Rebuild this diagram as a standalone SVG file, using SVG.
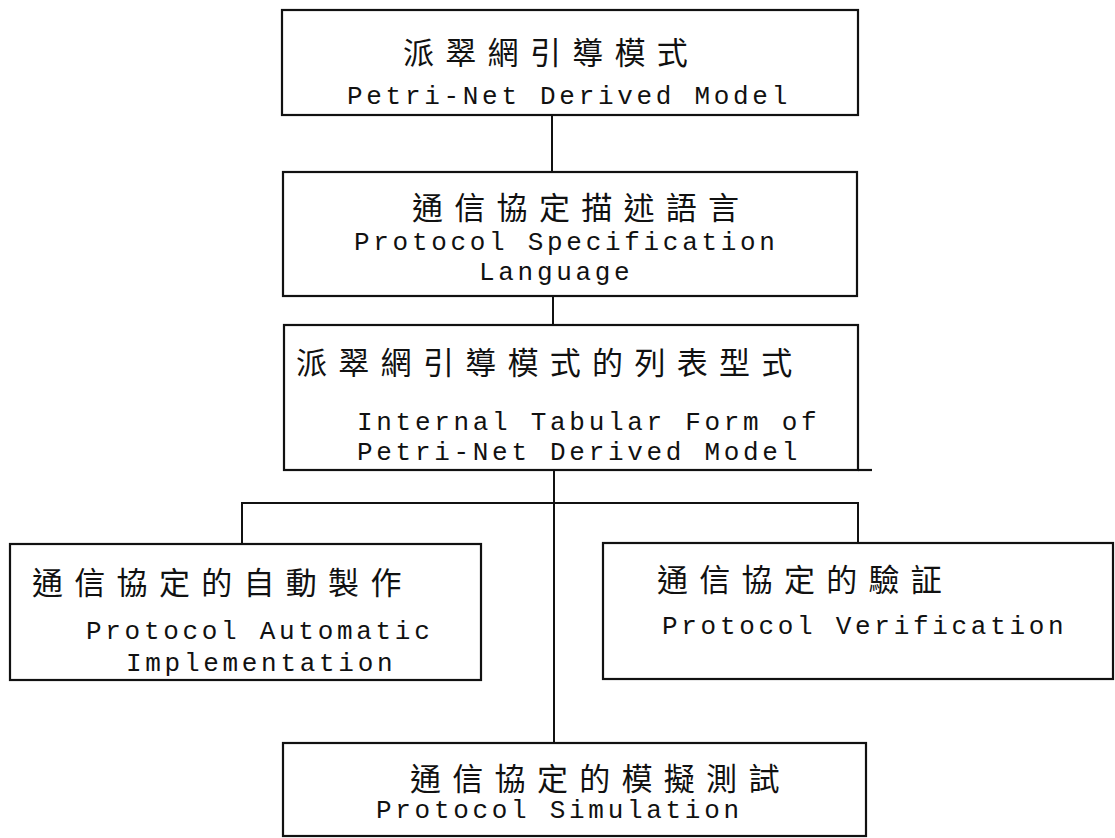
<svg xmlns="http://www.w3.org/2000/svg" width="1115" height="838" viewBox="0 0 1115 838">
<style>
.box{fill:none;stroke:#111;stroke-width:2.2}
.wire{fill:none;stroke:#111;stroke-width:2}
.zh{font-family:"Noto Sans CJK TC","Noto Sans CJK SC",sans-serif;font-size:31px;letter-spacing:11.3px;fill:#111}
.en{font-family:"Liberation Mono",monospace;font-size:26px;letter-spacing:3.7px;fill:#111}
</style>
<rect width="1115" height="838" fill="#fff"/>
<g id="connectors">
<line class="wire" x1="552" y1="115" x2="552" y2="172"/>
<line class="wire" x1="553" y1="296" x2="553" y2="325"/>
<line class="wire" x1="554" y1="470" x2="554" y2="743"/>
<polyline class="wire" points="242,544 242,503 858,503 858,543"/>
</g>
<g id="node-petri">
<rect class="box" x="282" y="10" width="576" height="105"/>
<text class="zh" x="403" y="64">派翠網引導模式</text>
<text class="en" x="347" y="104">Petri-Net Derived Model</text>
</g>
<g id="node-psl">
<rect class="box" x="283" y="172" width="574" height="124"/>
<text class="zh" x="412" y="219">通信協定描述語言</text>
<text class="en" x="354" y="250">Protocol Specification</text>
<text class="en" x="479" y="280">Language</text>
</g>
<g id="node-tabular">
<rect class="box" x="284" y="325" width="574" height="145"/>
<line class="box" x1="858" y1="470" x2="872" y2="470"/>
<text class="zh" x="296" y="374">派翠網引導模式的列表型式</text>
<text class="en" x="357" y="430">Internal Tabular Form of</text>
<text class="en" x="357" y="460">Petri-Net Derived Model</text>
</g>
<g id="node-impl">
<rect class="box" x="10" y="544" width="471" height="136"/>
<text class="zh" x="32" y="594">通信協定的自動製作</text>
<text class="en" x="86" y="639">Protocol Automatic</text>
<text class="en" x="126" y="671">Implementation</text>
</g>
<g id="node-verif">
<rect class="box" x="603" y="543" width="510" height="136"/>
<text class="zh" x="657" y="591">通信協定的驗証</text>
<text class="en" x="662" y="634">Protocol Verification</text>
</g>
<g id="node-sim">
<rect class="box" x="283" y="743" width="583" height="93"/>
<text class="zh" x="410" y="790">通信協定的模擬測試</text>
<text class="en" x="376" y="818">Protocol Simulation</text>
</g>
</svg>
